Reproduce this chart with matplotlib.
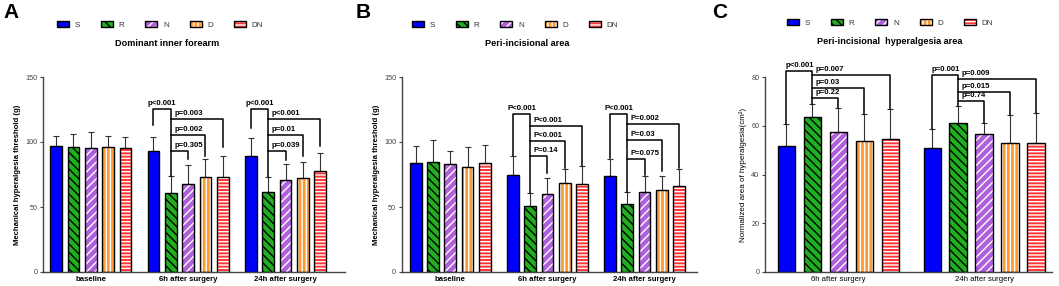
import numpy as np
import matplotlib
matplotlib.use('Agg')
import matplotlib.pyplot as plt
from matplotlib.patches import Patch
from matplotlib.legend_handler import HandlerTuple

plt.rcParams['font.family'] = ['Liberation Sans', 'DejaVu Sans']
plt.rcParams['hatch.linewidth'] = 1.0

# ---- data ----
series = ['S', 'R', 'N', 'D', 'DN']
groups_ab = ['baseline', '6h after surgery', '24h after surgery']
groups_c = ['6h after surgery', '24h after surgery']

# A: dominant inner forearm (rows = S, R, N, D, DN)
a_mean = [[96.6, 93.2, 89.4],
          [96.3, 60.6, 61.9],
          [95.6, 67.8, 70.9],
          [96.3, 72.7, 72.2],
          [95.6, 72.7, 77.8]]
a_sd = [[8.4, 10.3, 13.6],
        [9.7, 12.9, 10.8],
        [11.8, 14.7, 12.3],
        [8.5, 13.9, 12.8],
        [8.4, 16.4, 13.6]]

# B: peri-incisional area
b_mean = [[83.5, 75.0, 73.5],
          [85.0, 51.1, 52.4],
          [83.2, 59.9, 61.9],
          [80.7, 68.6, 63.2],
          [84.0, 67.8, 65.8]]
b_sd = [[13.1, 14.1, 13.6],
        [16.5, 10.0, 9.2],
        [9.5, 12.3, 12.3],
        [15.1, 10.5, 10.8],
        [13.6, 13.4, 13.6]]

# C: peri-incisional hyperalgesia area
c_mean = [[51.9, 51.1],
          [63.6, 61.1],
          [57.7, 56.6],
          [54.0, 53.2],
          [54.7, 52.9]]
c_sd = [[8.8, 7.5],
        [5.6, 7.1],
        [9.8, 4.5],
        [10.9, 11.3],
        [12.3, 12.3]]

# significance brackets: group -> (main label, top, S end), [(target, label, height, end)]
a_sig = {1: (('p<0.001', 125.4, 113.0), [(4, 'p=0.003', 117.6, 96.0), (3, 'p=0.002', 105.6, 88.9), (2, 'p=0.305', 92.7, 86.8)]),
         2: (('p<0.001', 125.4, 110.7), [(4, 'p<0.001', 117.6, 96.6), (3, 'p=0.01', 105.6, 88.9), (2, 'p=0.039', 92.7, 85.8)])}
b_sig = {1: (('P<0.001', 121.5, 89.5), [(4, 'P<0.001', 112.0, 81.5), (3, 'P<0.001', 100.4, 80.0), (2, 'P=0.14', 89.2, 76.0)]),
         2: (('P<0.001', 121.5, 87.6), [(4, 'P=0.002', 113.5, 80.0), (3, 'P=0.03', 101.5, 78.0), (2, 'P=0.075', 86.8, 74.5)])}
c_sig = {0: (('p<0.001', 82.6, 60.7), [(4, 'p=0.007', 81.0, 67.0), (3, 'p=0.03', 75.5, 64.9), (2, 'p=0.22', 71.6, 67.5)]),
         1: (('p=0.001', 81.0, 58.6), [(4, 'p=0.009', 79.3, 65.2), (3, 'p=0.015', 74.1, 64.5), (2, 'p=0.74', 70.3, 61.1)])}

colors = ['#0000FF', '#1FAF1F', '#B15FDD', '#FF9A30', '#FF3535']
hatches = [None, '\\\\\\\\', '////', '||||', '-----']
hatch_col = ['white', 'black', 'white', 'white', 'white']

W, H = 1059, 286
STEP = 0.178
BW = 0.12


def make_axes(left, right, top, bottom):
    return fig.add_axes([left / W, 1 - bottom / H, (right - left) / W, (bottom - top) / H])


def draw_bars(ax, mean, sd, groups):
    x0 = np.arange(len(groups))
    for j in range(5):
        x = x0 + (j - 2) * STEP
        ax.errorbar(x, mean[j], yerr=[np.zeros(len(groups)), sd[j]], fmt='none',
                    ecolor='#333333', elinewidth=0.8, capsize=2, capthick=0.8, zorder=1)
        ax.bar(x, mean[j], BW, color=colors[j], hatch=hatches[j], edgecolor=hatch_col[j],
               linewidth=0, zorder=2)
        ax.bar(x, mean[j], BW, fill=False, edgecolor='black', linewidth=1.0, zorder=3)
    ax.set_xticks(x0)
    ax.set_xticklabels(groups)
    ax.tick_params(axis='x', length=0, pad=3)
    ax.tick_params(axis='y', length=2.5, width=0.8, colors='#444444', pad=1.5)
    for s in ['top', 'right']:
        ax.spines[s].set_visible(False)
    for s in ['left', 'bottom']:
        ax.spines[s].set_color('#444444')
        ax.spines[s].set_linewidth(1.0)


def draw_sig(ax, mean, sd, sig):
    for g, (main, others) in sig.items():
        xs = [g + (j - 2) * STEP for j in range(5)]
        r_top = mean[1][g] + sd[1][g]
        lab, top, s_end = main
        ax.plot([xs[0], xs[0], xs[1], xs[1]], [s_end, top, top, r_top],
                color='black', lw=1.1, clip_on=False, zorder=4)
        ax.annotate(lab, xy=((xs[0] + xs[1]) / 2, top), xytext=(0, 1.5),
                    textcoords='offset points', ha='center', va='bottom',
                    fontsize=5.6, fontweight='bold', annotation_clip=False)
        for t, lab2, y, end in others:
            ax.plot([xs[1], xs[t], xs[t]], [y, y, end], color='black', lw=1.1,
                    clip_on=False, zorder=4)
            ax.annotate(lab2, xy=(xs[1], y), xytext=(2.5, 1.5),
                        textcoords='offset points', ha='left', va='bottom',
                        fontsize=5.6, fontweight='bold', annotation_clip=False)


def add_legend(cx, cy):
    handles = []
    for j in range(5):
        h1 = Patch(facecolor=colors[j], edgecolor=hatch_col[j], hatch=hatches[j], linewidth=0)
        h2 = Patch(fill=False, edgecolor='black', linewidth=1.0)
        handles.append((h1, h2))
    fig.legend(handles, series, handler_map={tuple: HandlerTuple(ndivide=1, pad=0)},
               loc='center', bbox_to_anchor=(cx / W, 1 - cy / H), ncol=5, frameon=False,
               fontsize=5.8, handlelength=1.5, handleheight=0.75, handletextpad=0.7,
               columnspacing=2.6, labelcolor='#333333')


fig = plt.figure(figsize=(W / 100, H / 100), dpi=100)

# panel A
axA = make_axes(43, 345, 77, 272)
draw_bars(axA, a_mean, a_sd, groups_ab)
axA.set_xlim(-0.49, 2.61)
axA.set_ylim(0, 150)
axA.set_yticks([0, 50, 100, 150])
axA.set_ylabel('Mechanical hyperalgesia threshold (g)', fontsize=5.6, fontweight='bold', labelpad=3)
draw_sig(axA, a_mean, a_sd, a_sig)
for lbl in axA.get_xticklabels():
    lbl.set_fontsize(5.6)
    lbl.set_fontweight('bold')
for lbl in axA.get_yticklabels():
    lbl.set_fontsize(5.2)
add_legend(160, 25)
fig.text(167 / W, 1 - 43 / H, 'Dominant inner forearm', ha='center', va='center', fontsize=6.6, fontweight='bold')
fig.text(3 / W, 1 - 12 / H, 'A', ha='left', va='center', fontsize=15, fontweight='bold')

# panel B
axB = make_axes(401.7, 697, 77, 272)
draw_bars(axB, b_mean, b_sd, groups_ab)
axB.set_xlim(-0.5, 2.54)
axB.set_ylim(0, 150)
axB.set_yticks([0, 50, 100, 150])
axB.set_ylabel('Mechanical hyperalgesia threshold (g)', fontsize=5.6, fontweight='bold', labelpad=3)
draw_sig(axB, b_mean, b_sd, b_sig)
for lbl in axB.get_xticklabels():
    lbl.set_fontsize(5.6)
    lbl.set_fontweight('bold')
for lbl in axB.get_yticklabels():
    lbl.set_fontsize(5.2)
add_legend(515, 25)
fig.text(527 / W, 1 - 43 / H, 'Peri-incisional area', ha='center', va='center', fontsize=6.6, fontweight='bold')
fig.text(356 / W, 1 - 12 / H, 'B', ha='left', va='center', fontsize=15, fontweight='bold')

# panel C
axC = make_axes(765, 1051.7, 77.3, 272)
draw_bars(axC, c_mean, c_sd, groups_c)
axC.set_xlim(-0.503, 1.463)
axC.set_ylim(0, 80)
axC.set_yticks([0, 20, 40, 60, 80])
axC.set_ylabel('Normalized area of hyperalgesia(cm²)', fontsize=5.8, labelpad=3)
draw_sig(axC, c_mean, c_sd, c_sig)
for lbl in axC.get_xticklabels():
    lbl.set_fontsize(5.6)
for lbl in axC.get_yticklabels():
    lbl.set_fontsize(5.2)
add_legend(890, 23)
fig.text(890 / W, 1 - 41 / H, 'Peri-incisional  hyperalgesia area', ha='center', va='center', fontsize=6.6, fontweight='bold')
fig.text(712 / W, 1 - 12 / H, 'C', ha='left', va='center', fontsize=15, fontweight='bold')

fig.savefig('out.png', dpi=100)
